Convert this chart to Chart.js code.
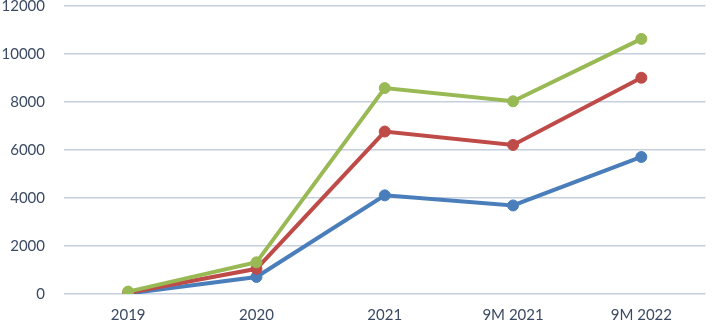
<!DOCTYPE html>
<html>
<head>
<meta charset="utf-8">
<script src="https://cdn.jsdelivr.net/npm/chart.js@4"></script>
<style>
  html, body { margin: 0; padding: 0; background: #fff; }
  #frame { width: 712px; height: 323px; overflow: hidden; position: relative; }
  #wrap { position: absolute; left: 0; top: -22px; width: 712px; height: 358px; }
</style>
</head>
<body>
<div id="frame"><div id="wrap"><canvas id="chart"></canvas></div></div>
<script>
const categories = ['2019', '2020', '2021', '9M 2021', '9M 2022'];
const seriesBlue = [20, 710, 4110, 3690, 5710];
const seriesRed = [50, 1050, 6770, 6210, 9010];
const seriesGreen = [100, 1320, 8580, 8030, 10630];
const yTicks = [0, 2000, 4000, 6000, 8000, 10000, 12000];

const line = (data, color) => ({
  data: data,
  borderColor: color,
  backgroundColor: color,
  borderWidth: 4,
  pointRadius: 5.5,
  pointBorderWidth: 1,
  pointHoverRadius: 5.5,
  tension: 0,
});

const ctx = document.getElementById('chart').getContext('2d');
new Chart(ctx, {
  type: 'line',
  data: {
    labels: categories,
    datasets: [
      line(seriesGreen, '#98b954'),
      line(seriesRed, '#be4b48'),
      line(seriesBlue, '#4a7ebb'),
    ]
  },
  options: {
    responsive: true,
    maintainAspectRatio: false,
    animation: false,
    layout: { padding: 0 },
    plugins: {
      legend: { display: false },
      tooltip: { enabled: false },
    },
    scales: {
      x: {
        offset: true,
        grid: { display: false, drawTicks: false },
        border: { display: false },
        ticks: {
          color: '#3b4a63',
          font: { family: 'Lato', size: 15 },
          padding: 12,
        }
      },
      y: {
        min: 0,
        max: 12000,
        afterBuildTicks: (scale) => { scale.ticks = yTicks.map(v => ({ value: v })); },
        afterFit: (scale) => { scale.width = 64; },
        grid: { color: '#c5cfdd', lineWidth: 1.5, drawTicks: false },
        border: { display: false },
        ticks: {
          color: '#3b4a63',
          font: { family: 'Lato', size: 15 },
          padding: 19,
          callback: (v) => String(v),
        }
      }
    }
  }
});
</script>
</body>
</html>
